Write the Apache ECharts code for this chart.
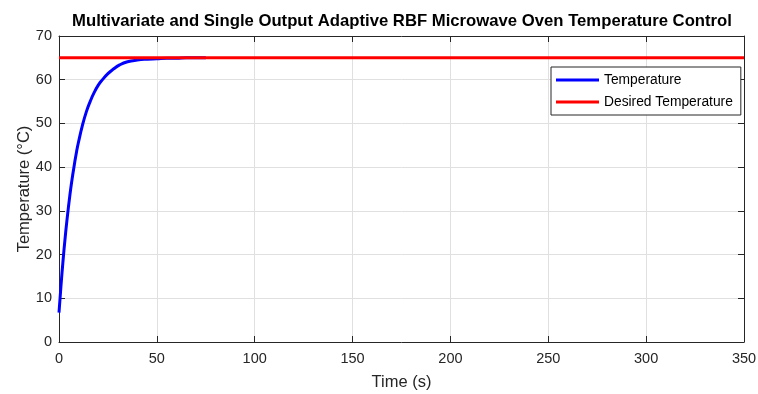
<!DOCTYPE html>
<html>
<head>
<meta charset="utf-8">
<script src="https://cdn.jsdelivr.net/npm/echarts@6/dist/echarts.min.js"></script>
<style>html,body{margin:0;padding:0;background:#fff}#c{width:758px;height:394px}</style>
</head>
<body>
<div id="c"></div>
<script>
const chartTitle = 'Multivariate and Single Output Adaptive RBF Microwave Oven Temperature Control';
const xLabel = 'Time (s)';
const yLabel = 'Temperature (°C)';
const timeValues = [0, 1, 2, 3, 4, 5, 6, 7, 8, 9, 10, 12, 14, 16, 18, 20, 22, 25, 28, 31, 35, 40, 45, 50, 55, 60, 65, 70, 75];
const temperature = [6.7, 12.8, 18.3, 23.2, 27.6, 31.5, 35.1, 38.2, 41.0, 43.6, 45.8, 49.6, 52.7, 55.1, 57.1, 58.7, 59.9, 61.4, 62.5, 63.4, 64.1, 64.5, 64.7, 64.8, 64.9, 64.9, 65.0, 65.0, 65.0];
const desiredTime = [0, 350];
const desiredTemp = [65, 65];
const seriesNames = ['Temperature', 'Desired Temperature'];

const FONT = '"Liberation Sans", Arial, Helvetica, sans-serif';
const AX = '#262626';
const chart = echarts.init(document.getElementById('c'));
const boxAxis = {
  axisLine: { show: true, onZero: false, lineStyle: { color: AX, width: 1 } },
  axisTick: { show: true, inside: true, length: 6, lineStyle: { color: AX } },
  axisLabel: { show: false },
  splitLine: { show: false }
};
chart.setOption({
  animation: false,
  backgroundColor: '#fff',
  textStyle: { fontFamily: FONT },
  title: {
    text: chartTitle, left: 397, top: 8, textAlign: 'center',
    textStyle: { fontFamily: FONT, fontWeight: 'bold', fontSize: 16.7, color: '#000' }
  },
  grid: { left: 59, right: 14, top: 36, bottom: 52, outerBoundsMode: 'none', containLabel: false },
  legend: {
    orient: 'vertical', left: 551, top: 67,
    padding: [4, 8, 4, 5], itemGap: 4, itemWidth: 43, itemHeight: 3,
    icon: 'rect', backgroundColor: '#fff', borderColor: AX, borderWidth: 1,
    textStyle: { fontFamily: FONT, fontSize: 13.8, color: '#000', lineHeight: 18 },
    data: seriesNames
  },
  xAxis: [{
    type: 'value', min: 0, max: 350, interval: 50,
    name: xLabel, nameLocation: 'middle', nameGap: 32, nameMoveOverlap: false,
    nameTextStyle: { fontFamily: FONT, fontSize: 16.5, color: AX },
    axisLine: { show: true, onZero: false, lineStyle: { color: AX } },
    axisTick: { show: true, inside: true, length: 6, lineStyle: { color: AX } },
    axisLabel: { fontFamily: FONT, fontSize: 14.5, color: AX, margin: 9 },
    splitLine: { show: true, lineStyle: { color: '#e0e0e0', width: 1 } }
  }, Object.assign({ type: 'value', min: 0, max: 350, interval: 50, position: 'top' }, boxAxis)],
  yAxis: [{
    type: 'value', min: 0, max: 70, interval: 10,
    name: yLabel, nameLocation: 'middle', nameGap: 26, nameMoveOverlap: false,
    nameTextStyle: { fontFamily: FONT, fontSize: 16.5, color: AX },
    axisLine: { show: true, onZero: false, lineStyle: { color: AX } },
    axisTick: { show: true, inside: true, length: 6, lineStyle: { color: AX } },
    axisLabel: { fontFamily: FONT, fontSize: 14.5, color: AX, margin: 7 },
    splitLine: { show: true, lineStyle: { color: '#e0e0e0', width: 1 } }
  }, Object.assign({ type: 'value', min: 0, max: 70, interval: 10, position: 'right' }, boxAxis)],
  series: [{
    name: seriesNames[0], type: 'line', smooth: true, symbol: 'none',
    color: '#0000ff', lineStyle: { color: '#0000ff', width: 3 },
    data: timeValues.map((t, i) => [t, temperature[i]]), z: 2
  }, {
    name: seriesNames[1], type: 'line', symbol: 'none',
    color: '#ff0000', lineStyle: { color: '#ff0000', width: 3 },
    data: desiredTime.map((t, i) => [t, desiredTemp[i]]), z: 3
  }]
});
</script>
</body>
</html>
